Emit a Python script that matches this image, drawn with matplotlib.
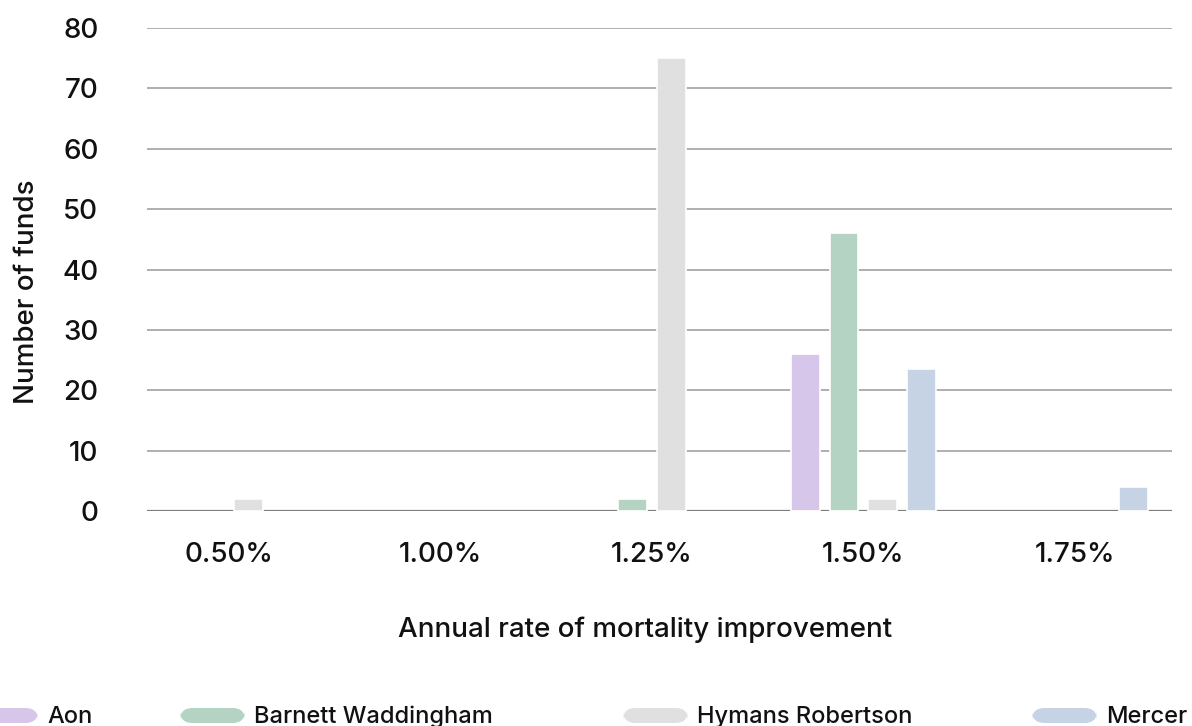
import numpy as np
import matplotlib.pyplot as plt
from matplotlib.patches import FancyBboxPatch

plt.rcParams['font.family'] = ['Inter', 'DejaVu Sans']

rates = ["0.50%", "1.00%", "1.25%", "1.50%", "1.75%"]
series = ["Aon", "Barnett Waddingham", "Hymans Robertson", "Mercer"]
aon = [0, 0, 0, 26, 0]
barnett = [0, 0, 2, 46, 0]
hymans = [2, 0, 75, 2, 0]
mercer = [0, 0, 0, 23.5, 4]
colors = ["#d6c6ea", "#b5d3c3", "#e0e0e0", "#c5d3e4"]

W, H = 1192, 726
fig = plt.figure(figsize=(W / 100, H / 100), dpi=100)
ax = fig.add_axes([147 / W, (H - 511) / H, (1172 - 147) / W, (511 - 28) / H])

x = np.arange(len(rates))
bw = 0.137
step = 0.184
for i, vals in enumerate([aon, barnett, hymans, mercer]):
    v = np.array(vals, dtype=float)
    m = v > 0
    ax.bar(x[m] + (i - 1.5) * step, v[m], width=bw, color=colors[i],
           edgecolor="white", linewidth=1.2, zorder=3)

ax.set_xlim(-0.388, 4.459)
ax.set_ylim(0, 80)
ax.set_yticks(range(0, 81, 10))
ax.yaxis.grid(True, color="#9a9a9a", linewidth=1.1, zorder=1)
ax.set_axisbelow(True)
ax.axhline(0, color="#7f7f7f", linewidth=1.6, zorder=2)
for s in ax.spines.values():
    s.set_visible(False)
ax.tick_params(length=0, labelsize=20)
ax.tick_params(axis="y", pad=35)
ax.tick_params(axis="x", pad=22)
ax.set_xticks(x)
ax.set_xticklabels(rates)
for t in ax.get_xticklabels() + ax.get_yticklabels():
    t.set_fontweight("medium")
    t.set_color("#111111")

fig.text(27 / W, 1 - 292 / H, "Number of funds", rotation=90, ha="center",
         va="center", fontsize=20, fontweight="medium", color="#111111")
fig.text(645 / W, 1 - 637 / H, "Annual rate of mortality improvement",
         ha="center", va="baseline", fontsize=20, fontweight="medium",
         color="#111111")

# legend along the bottom, first swatch runs off the left edge
leg_x = [-27, 180, 623, 1032]
for name, c, lx in zip(series, colors, leg_x):
    p = FancyBboxPatch((lx / W, (H - 723) / H), 65 / W, 15 / H,
                       boxstyle="round,pad=0,rounding_size=0.0104",
                       transform=fig.transFigure, facecolor=c,
                       edgecolor="none", mutation_aspect=W / H)
    fig.patches.append(p)
    fig.text((lx + 74) / W, 1 - 723 / H, name, ha="left", va="baseline",
             fontsize=17, fontweight="medium", color="#111111")

plt.savefig("out.png", dpi=100)
